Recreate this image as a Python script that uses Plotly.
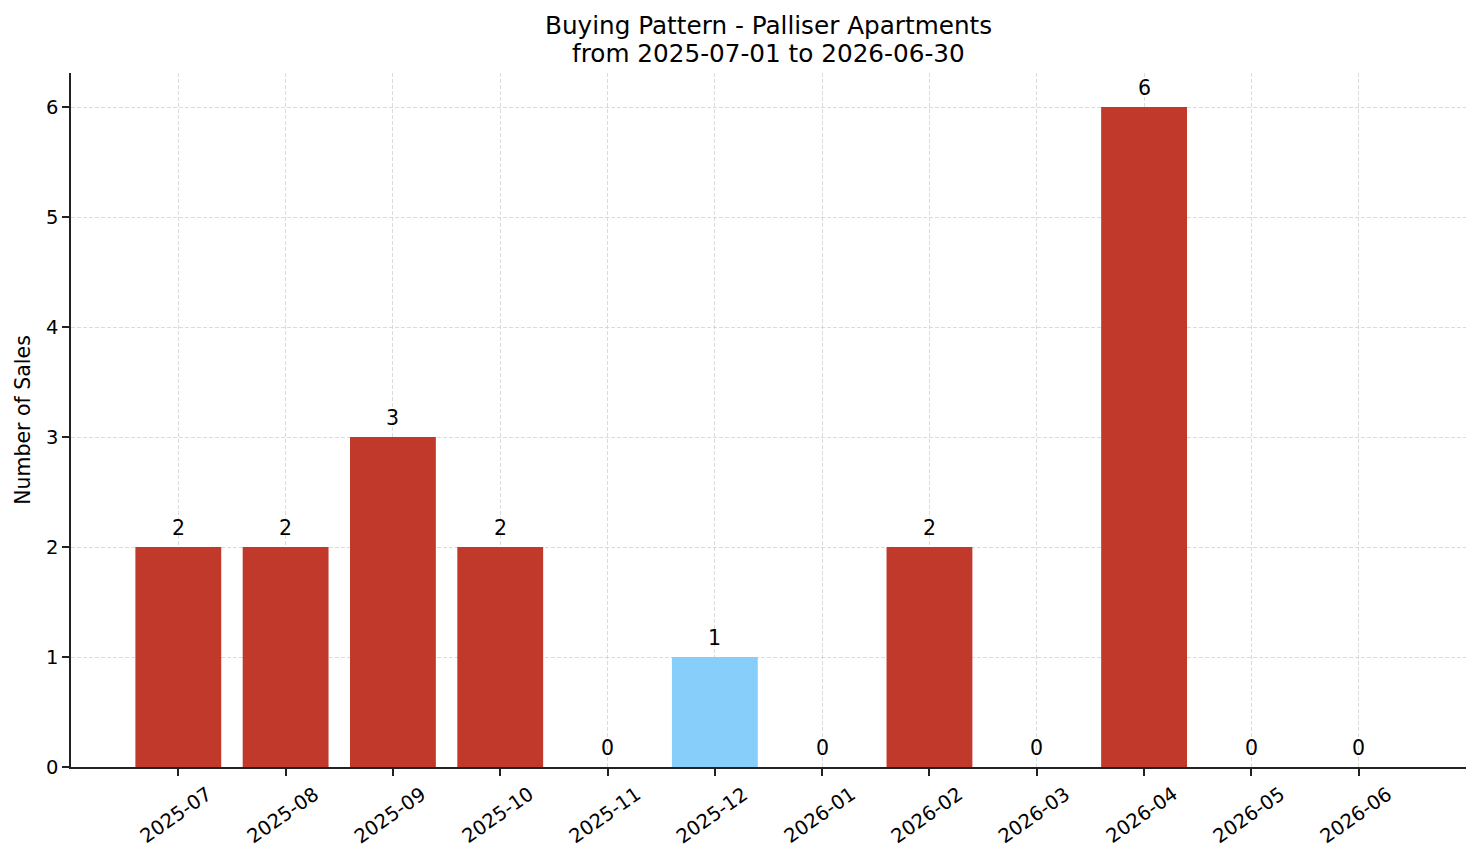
import plotly.graph_objects as go

months = ["2025-07", "2025-08", "2025-09", "2025-10", "2025-11", "2025-12",
          "2026-01", "2026-02", "2026-03", "2026-04", "2026-05", "2026-06"]
sales = [2, 2, 3, 2, 0, 1, 0, 2, 0, 6, 0, 0]
bar_colors = ["#C0392B", "#C0392B", "#C0392B", "#C0392B", "#C0392B", "#87CEFA",
              "#C0392B", "#C0392B", "#C0392B", "#C0392B", "#C0392B", "#C0392B"]
title_lines = ["Buying Pattern - Palliser Apartments", "from 2025-07-01 to 2026-06-30"]

FONT = "DejaVu Sans"
GRID = "rgba(200,200,200,0.65)"

fig = go.Figure()
fig.add_trace(go.Bar(
    x=months, y=sales, marker=dict(color=bar_colors, line=dict(width=0)),
    width=0.8, showlegend=False, hoverinfo="skip",
))

annotations = []
# value labels above bars
for m, v in zip(months, sales):
    annotations.append(dict(
        x=m, y=v, xref="x", yref="y", text=str(v), showarrow=False,
        xanchor="center", yanchor="bottom", yshift=5,
        font=dict(family=FONT, size=20.5, color="black"),
    ))
# rotated, centred tick labels
for m in months:
    annotations.append(dict(
        x=m, y=0, xref="x", yref="paper", text=m, showarrow=False,
        textangle=-35, xanchor="center", yanchor="middle", yshift=-48, xshift=-3,
        font=dict(family=FONT, size=19.5, color="black"),
    ))
# title lines
for line, shift in zip(title_lines, [48, 20]):
    annotations.append(dict(
        x=0.5, y=1, xref="paper", yref="paper", text=line, showarrow=False,
        xanchor="center", yanchor="middle", yshift=shift,
        font=dict(family=FONT, size=24.7, color="black"),
    ))

fig.update_layout(
    width=1481, height=863,
    margin=dict(l=71, r=15, t=73, b=96),
    paper_bgcolor="white", plot_bgcolor="white",
    font=dict(family=FONT, color="black"),
    annotations=annotations,
)
fig.update_xaxes(
    type="category", range=[-1, 12], showticklabels=False,
    showline=True, linecolor="#222222", linewidth=1.5,
    ticks="outside", ticklen=7, tickcolor="#222222", tickwidth=1.5,
    showgrid=True, gridcolor=GRID, griddash="4px,2px", gridwidth=1,
    layer="above traces", zeroline=False,
)
fig.update_yaxes(
    range=[0, 6.31], tickvals=[0, 1, 2, 3, 4, 5, 6],
    showline=True, linecolor="#222222", linewidth=1.5,
    ticks="outside", ticklen=7, tickcolor="#222222", tickwidth=1.5,
    showgrid=True, gridcolor=GRID, griddash="4px,2px", gridwidth=1,
    tickfont=dict(family=FONT, size=19.5), layer="above traces",
    zeroline=False,
    title=dict(text="Number of Sales", font=dict(family=FONT, size=20.5), standoff=10),
)

fig.write_html("out.html")
